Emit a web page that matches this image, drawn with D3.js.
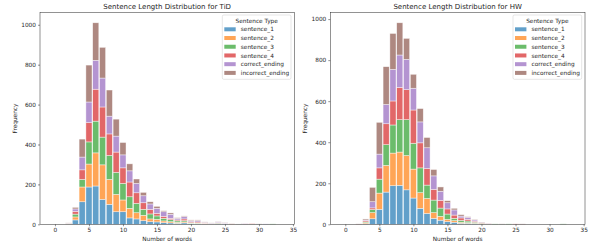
<!DOCTYPE html>
<html><head><meta charset="utf-8">
<script src="https://cdn.jsdelivr.net/npm/d3@7"></script>
<style>
html,body{margin:0;padding:0;background:#fff;}
text{font-family:"DejaVu Sans",sans-serif;}
</style></head>
<body><svg id="c" width="590" height="251"></svg>
<script>
// ---- data ----
const bins = d3.range(0, 34); // number of words
const seriesNames = ["sentence_1","sentence_2","sentence_3","sentence_4","correct_ending","incorrect_ending"];
const colors = ["#1f77b4","#ff7f0e","#2ca02c","#d62728","#9467bd","#8c564b"];
const xTicks = [0,5,10,15,20,25,30,35];
const yTicks = [0,200,400,600,800,1000];
const titles = ["Sentence Length Distribution for TiD","Sentence Length Distribution for HW"];

//                0 1 2  3   4   5   6   7   8   9  10 11 12 13 14 15 16 17 18 19 20 21 22 23 24 25 26 27 28 29 30 31 32 33
const tid_sentence_1       = [0,0,1,22,113,187,192,125,100,63,63,32,27,18,13,12,8,7,5,7,3,2,1,1,2,2,0,0,1,0,1,1,0,0];
const tid_sentence_2       = [0,0,1,15,74,115,166,173,125,87,59,48,31,27,14,13,9,6,5,5,2,3,2,1,2,1,1,0,0,0,0,0,0,0];
const tid_sentence_3       = [0,0,2,14,38,111,159,139,120,110,83,58,47,30,25,17,13,10,7,6,3,2,2,1,2,1,0,1,0,1,0,0,2,0];
const tid_sentence_4       = [0,0,1,14,48,97,160,151,108,102,78,74,53,33,23,13,10,7,5,9,5,5,2,1,2,1,1,0,1,2,0,0,0,0];
const tid_correct_ending   = [0,0,1,12,64,103,145,145,89,80,65,56,47,35,27,25,23,20,8,11,5,6,3,2,4,2,0,2,1,0,0,1,0,0];
const tid_incorrect_ending = [0,0,1,8,90,185,188,154,131,85,62,35,22,17,11,10,5,7,3,4,4,4,2,1,1,1,2,1,0,0,1,0,0,0];

const hw_sentence_1        = [0,0,0,3,27,73,157,188,190,168,128,78,53,29,20,13,10,5,5,3,1,1,0,0,0,0,0,0,0,0,0,0,0,0];
const hw_sentence_2        = [0,0,0,5,30,79,130,159,162,167,141,76,73,28,19,11,8,5,3,2,2,1,0,0,0,0,0,0,0,0,0,0,0,0];
const hw_sentence_3        = [0,0,0,4,15,68,101,137,158,175,126,121,65,61,40,26,11,9,8,5,2,1,2,1,2,0,0,0,0,0,0,0,2,0];
const hw_sentence_4        = [0,0,1,6,8,55,102,117,157,146,162,122,81,52,38,25,16,12,8,5,3,1,0,0,0,2,1,0,0,0,0,0,0,0];
const hw_correct_ending    = [0,0,0,3,30,67,94,154,158,148,106,102,101,66,44,30,25,9,10,6,2,1,0,0,0,0,0,0,0,0,0,0,0,0];
const hw_incorrect_ending  = [0,0,1,5,70,155,184,175,157,102,68,65,50,31,21,10,8,7,3,3,1,0,0,1,0,0,1,0,0,0,0,0,0,0];

const panels = [
  {title: titles[0], series: [tid_sentence_1,tid_sentence_2,tid_sentence_3,tid_sentence_4,tid_correct_ending,tid_incorrect_ending],
   left: 40, right: 294.3},
  {title: titles[1], series: [hw_sentence_1,hw_sentence_2,hw_sentence_3,hw_sentence_4,hw_correct_ending,hw_incorrect_ending],
   left: 330.3, right: 585}
];
const axTop = 12.7, axBottom = 224.3;
const ink = "#262626";

const svg = d3.select("#c");

panels.forEach(p => {
  const rows = bins.map((b, i) => {
    const r = {bin: b};
    seriesNames.forEach((s, k) => r[s] = p.series[k][i]);
    return r;
  });
  const stacked = d3.stack().keys(seriesNames)(rows);
  const maxTotal = d3.max(rows, r => d3.sum(seriesNames, s => r[s]));

  const x = d3.scaleLinear().domain([-2.2, 35.2]).range([p.left, p.right]);
  const y = d3.scaleLinear().domain([0, maxTotal * 1.05]).range([axBottom, axTop]);
  const g = svg.append("g");
  const bw = x(0.9) - x(0);

  stacked.forEach((layer, k) => {
    g.append("g").selectAll("rect").data(layer.filter(d => d[1] - d[0] > 0)).join("rect")
      .attr("x", d => x(d.data.bin) - bw / 2)
      .attr("width", bw)
      .attr("y", d => y(d[1]))
      .attr("height", d => y(d[0]) - y(d[1]))
      .attr("fill", colors[k])
      .attr("fill-opacity", 0.7)
      .attr("stroke", "#fff")
      .attr("stroke-opacity", 0.7)
      .attr("stroke-width", 0.6);
  });

  // axes
  const xa = g.append("g").attr("transform", `translate(0,${axBottom})`)
    .call(d3.axisBottom(x).tickValues(xTicks).tickSize(2).tickPadding(2).tickFormat(d3.format("d")));
  const ya = g.append("g").attr("transform", `translate(${p.left},0)`)
    .call(d3.axisLeft(y).tickValues(yTicks).tickSize(2).tickPadding(2).tickFormat(d3.format("d")));
  [xa, ya].forEach(a => {
    a.select(".domain").remove();
    a.selectAll("line").attr("stroke", ink).attr("stroke-width", 0.5);
    a.selectAll("text").attr("font-size", 5.8).attr("fill", ink)
      .attr("font-family", "DejaVu Sans");
  });
  // spines
  g.append("rect").attr("x", p.left).attr("y", axTop)
    .attr("width", p.right - p.left).attr("height", axBottom - axTop)
    .attr("fill", "none").attr("stroke", ink).attr("stroke-width", 0.5);

  const cx = (p.left + p.right) / 2;
  g.append("text").attr("x", cx).attr("y", 8.7).attr("text-anchor", "middle")
    .attr("font-size", 7).attr("fill", ink).text(p.title);
  g.append("text").attr("x", cx).attr("y", 241.3).attr("text-anchor", "middle")
    .attr("font-size", 5.8).attr("fill", ink).text("Number of words");
  g.append("text").attr("transform", `translate(${p.left - 23},${(axTop + axBottom) / 2}) rotate(-90)`)
    .attr("text-anchor", "middle").attr("font-size", 5.8).attr("fill", ink).text("Frequency");

  // legend
  const lx = p.right - 72, ly = 15, lw = 68.7, lh = 64.3;
  const lg = g.append("g");
  lg.append("rect").attr("x", lx).attr("y", ly).attr("width", lw).attr("height", lh)
    .attr("rx", 1.5).attr("fill", "#fff").attr("fill-opacity", 0.8)
    .attr("stroke", "#ccc").attr("stroke-width", 0.5);
  lg.append("text").attr("x", lx + lw / 2).attr("y", ly + 8).attr("text-anchor", "middle")
    .attr("font-size", 5.8).attr("fill", ink).text("Sentence Type");
  seriesNames.forEach((s, k) => {
    const yy = 29.3 + k * 8.72;
    lg.append("rect").attr("x", lx + 2).attr("y", yy - 2).attr("width", 11.4).attr("height", 4)
      .attr("fill", colors[k]).attr("fill-opacity", 0.7);
    lg.append("text").attr("x", lx + 18.5).attr("y", yy + 2.1)
      .attr("font-size", 5.8).attr("fill", ink).text(s);
  });
});
</script></body></html>
